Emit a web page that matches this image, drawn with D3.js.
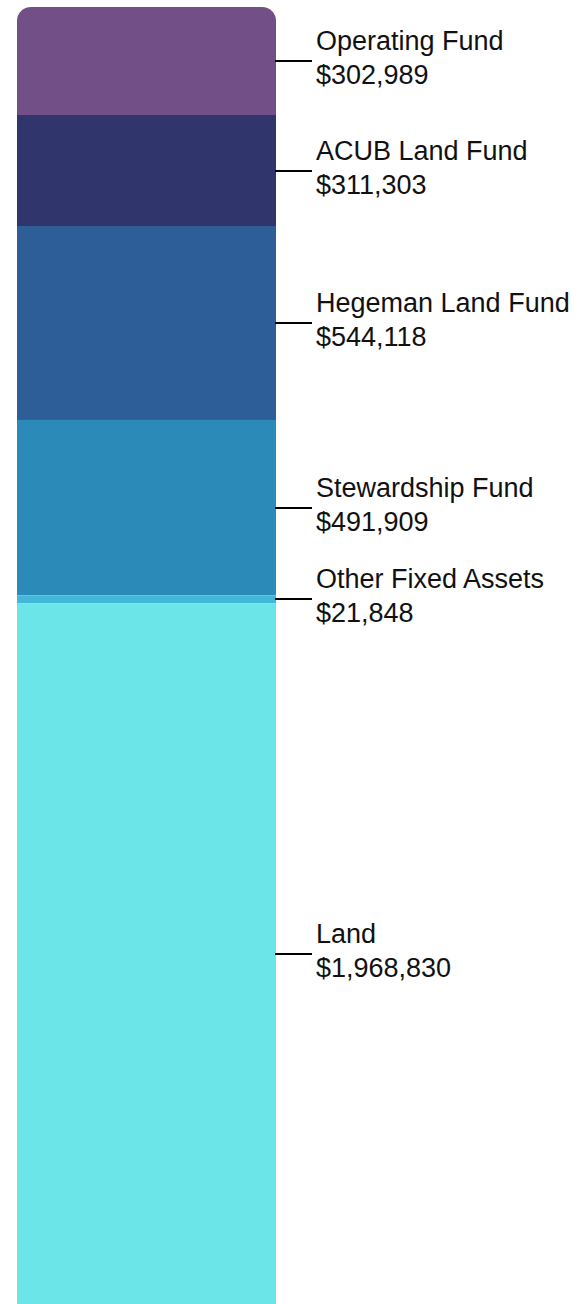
<!DOCTYPE html>
<html>
<head>
<meta charset="utf-8">
<script src="https://cdn.jsdelivr.net/npm/d3@7"></script>
<style>
  html, body { margin: 0; padding: 0; background: #ffffff; }
  svg { display: block; }
  text { font-family: "Liberation Sans", Arial, sans-serif; }
</style>
</head>
<body>
<div id="chart"></div>
<script>
const categories = ["Operating Fund", "ACUB Land Fund", "Hegeman Land Fund", "Stewardship Fund", "Other Fixed Assets", "Land"];
const values = [302989, 311303, 544118, 491909, 21848, 1968830];
const colors = ["#734f87", "#30356c", "#2e5e98", "#2c8ab8", "#42b8d6", "#6ce5e8"];

const W = 586, H = 1304;
const barX0 = 17, barX1 = 276, barTop = 7, barBottom = 1305;
const radius = 14;

let acc = 0;
const segs = categories.map((c, i) => {
  const s = { name: c, value: values[i], color: colors[i], y0: acc, y1: acc + values[i] };
  acc += values[i];
  return s;
});
const total = acc;

const y = d3.scaleLinear().domain([0, total]).range([barTop, barBottom]);

const svg = d3.select("#chart").append("svg")
  .attr("width", W).attr("height", H);

svg.append("defs").append("clipPath").attr("id", "barclip")
  .append("rect")
  .attr("x", barX0).attr("y", barTop)
  .attr("width", barX1 - barX0).attr("height", (barBottom - barTop) + 40)
  .attr("rx", radius).attr("ry", radius);

const fmt = d3.format(",");

svg.append("g").attr("clip-path", "url(#barclip)")
  .selectAll("rect").data(segs).join("rect")
  .attr("x", barX0)
  .attr("width", barX1 - barX0)
  .attr("y", d => y(d.y0))
  .attr("height", d => y(d.y1) - y(d.y0))
  .attr("fill", d => d.color);

const lab = svg.append("g").selectAll("g").data(segs).join("g")
  .attr("transform", d => `translate(0,${Math.round((y(d.y0) + y(d.y1)) / 2)})`);

lab.append("line")
  .attr("x1", barX1 - 1).attr("x2", 312)
  .attr("y1", 0).attr("y2", 0)
  .attr("stroke", "#000").attr("stroke-width", 2);

lab.append("text")
  .attr("x", 316).attr("y", -11)
  .attr("font-size", 27).attr("fill", "#111")
  .text(d => d.name);

lab.append("text")
  .attr("x", 316).attr("y", 23)
  .attr("font-size", 27).attr("fill", "#111")
  .text(d => "$" + fmt(d.value));
</script>
</body>
</html>
